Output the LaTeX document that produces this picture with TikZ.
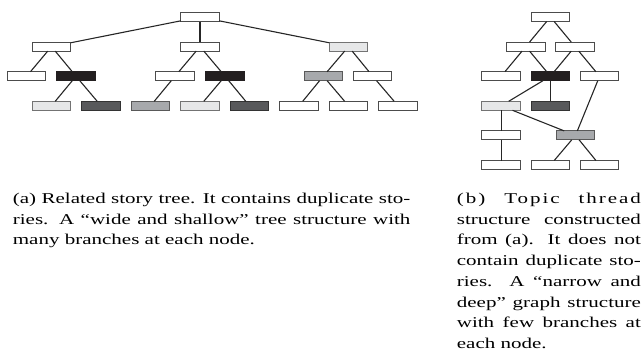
\documentclass[tikz,border=0pt]{standalone}
\usepackage{fontspec}
\setmainfont{Liberation Serif}[FakeStretch=1.4]
\definecolor{boxblack}{HTML}{231F20}
\definecolor{boxdark}{HTML}{58595B}
\definecolor{boxmid}{HTML}{A7A9AC}
\definecolor{boxlight}{HTML}{E6E7E8}
\newcommand{\capfont}{\fontsize{15pt}{20.7pt}\selectfont}
\newlength{\lw}\setlength{\lw}{397.5pt}
\newlength{\rw}\setlength{\rw}{184pt}
\begin{document}
\begin{tikzpicture}[x=1pt,y=-1pt,
  box/.style={draw=black!70, line width=1pt, minimum width=38.5pt, minimum height=9pt, inner sep=0pt, outer sep=0pt},
  wbox/.style={box, fill=white},
  kbox/.style={box, fill=boxblack, draw=boxblack},
  dbox/.style={box, fill=boxdark, draw=black!80},
  mbox/.style={box, fill=boxmid, draw=black!65},
  lbox/.style={box, fill=boxlight, draw=black!55},
  edge/.style={line width=1.1pt, draw=black!85},
  capline/.style={anchor=base west, inner sep=0pt, font=\capfont}]
\useasboundingbox (0,0) rectangle (642,357);
\clip (0,0) rectangle (642,357);
% ---------- (a) tree ----------
\node[wbox] (r)  at (200,17) {};
\node[wbox] (a1) at (51.5,46.6) {};
\node[wbox] (b1) at (200,46.6) {};
\node[lbox] (c1) at (348.5,46.6) {};
\node[wbox] (a2) at (26.7,76.2) {};
\node[kbox] (b2) at (76,76.2) {};
\node[wbox] (c2) at (175,76.2) {};
\node[kbox] (d2) at (225,76.2) {};
\node[mbox] (e2) at (323.3,76.2) {};
\node[wbox] (f2) at (372.7,76.2) {};
\node[lbox] (a3) at (51.5,105.8) {};
\node[dbox] (b3) at (101,105.8) {};
\node[mbox] (c3) at (150.5,105.8) {};
\node[lbox] (d3) at (200,105.8) {};
\node[dbox] (e3) at (249.5,105.8) {};
\node[wbox] (f3) at (299,105.8) {};
\node[wbox] (g3) at (348.5,105.8) {};
\node[wbox] (h3) at (398,105.8) {};
\draw[edge] (r) -- (a1);
\draw[edge] (r) -- (b1);
\draw[edge] (r) -- (c1);
\draw[edge] (a1) -- (a2);
\draw[edge] (a1) -- (b2);
\draw[edge] (b2) -- (a3);
\draw[edge] (b2) -- (b3);
\draw[edge] (b1) -- (c2);
\draw[edge] (b1) -- (d2);
\draw[edge] (c2) -- (c3);
\draw[edge] (d2) -- (d3);
\draw[edge] (d2) -- (e3);
\draw[edge] (c1) -- (e2);
\draw[edge] (c1) -- (f2);
\draw[edge] (e2) -- (f3);
\draw[edge] (e2) -- (g3);
\draw[edge] (f2) -- (h3);
% ---------- (b) graph ----------
\node[wbox] (t0)  at (550.4,17) {};
\node[wbox] (t1a) at (525.8,46.6) {};
\node[wbox] (t1b) at (575,46.6) {};
\node[wbox] (t2a) at (501.2,76.2) {};
\node[kbox] (t2b) at (550.4,76.2) {};
\node[wbox] (t2c) at (599.6,76.2) {};
\node[lbox] (t3a) at (501.2,105.8) {};
\node[dbox] (t3b) at (550.4,105.8) {};
\node[wbox] (t4a) at (501.2,135.4) {};
\node[mbox] (t4b) at (575.5,135.4) {};
\node[wbox] (t5a) at (501.2,165) {};
\node[wbox] (t5b) at (550.4,165) {};
\node[wbox] (t5c) at (599.6,165) {};
\draw[edge] (t0) -- (t1a);
\draw[edge] (t0) -- (t1b);
\draw[edge] (t1a) -- (t2a);
\draw[edge] (t1a) -- (t2b);
\draw[edge] (t1b) -- (t2b);
\draw[edge] (t1b) -- (t2c);
\draw[edge] (t2b) -- (t3a);
\draw[edge] (t2b) -- (t3b);
\draw[edge] (t2c) -- (t4b);
\draw[edge] (t3a) -- (t4a);
\draw[edge] (t3a) -- (t4b);
\draw[edge] (t4a) -- (t5a);
\draw[edge] (t4b) -- (t5b);
\draw[edge] (t4b) -- (t5c);
% ---------- captions ----------
\node[capline] (la1) at (12.7,203.5) {\hbox to\lw{(a) Related story tree. It contains duplicate sto-}};
\node[capline] (la2) at (12.7,224.2) {\hbox to\lw{ries. A “wide and shallow” tree structure with}};
\node[capline] (la3) at (12.7,244.9) {many branches at each node.};
\node[capline] (lb1) at (456.7,203.5) {\hbox to\rw{\addfontfeatures{LetterSpace=13}(b) Topic thread}};
\node[capline] (lb2) at (456.7,224.2) {\hbox to\rw{structure constructed}};
\node[capline] (lb3) at (456.7,244.9) {\hbox to\rw{from (a). It does not}};
\node[capline] (lb4) at (456.7,265.6) {\hbox to\rw{contain duplicate sto-}};
\node[capline] (lb5) at (456.7,286.3) {\hbox to\rw{ries. A “narrow and}};
\node[capline] (lb6) at (456.7,307.0) {\hbox to\rw{deep” graph structure}};
\node[capline] (lb7) at (456.7,327.7) {\hbox to\rw{with few branches at}};
\node[capline] (lb8) at (456.7,348.4) {each node.};
\end{tikzpicture}
\end{document}
